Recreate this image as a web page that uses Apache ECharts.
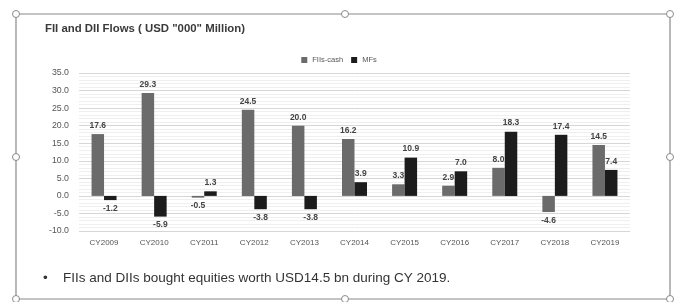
<!DOCTYPE html>
<html>
<head>
<meta charset="utf-8">
<script src="https://cdn.jsdelivr.net/npm/echarts@6/dist/echarts.min.js"></script>
<style>
body{margin:0;background:#fff;}
#chart{width:678px;height:302px;}
</style>
</head>
<body>
<div id="chart"></div>
<script>
var years = ['CY2009','CY2010','CY2011','CY2012','CY2013','CY2014','CY2015','CY2016','CY2017','CY2018','CY2019'];
var fiiCash = [17.6, 29.3, -0.5, 24.5, 20.0, 16.2, 3.3, 2.9, 8.0, -4.6, 14.5];
var mfs = [-1.2, -5.9, 1.3, -3.8, -3.8, 3.9, 10.9, 7.0, 18.3, 17.4, 7.4];
var yTicks = {min: -10, max: 35, step: 5};

// positive labels above, negative below
function withLabels(arr){
	return arr.map(function(v){
		return {value: v, label: {position: v < 0 ? 'bottom' : 'top'}};
	});
}

function handle(x, y){
	return {type:'circle', shape:{cx:x, cy:y, r:3.5}, style:{fill:'#fff', stroke:'#8a8a8a', lineWidth:1}, z:10};
}

var myChart = echarts.init(document.getElementById('chart'));
myChart.setOption({
	animation: false,
	textStyle: {fontFamily: 'Liberation Sans, Arial, sans-serif'},
	title: {
		text: 'FII and DII Flows ( USD "000" Million)',
		left: 40, top: 18,
		textStyle: {fontSize: 11.4, fontWeight: 'bold', color: '#3a3a3a'}
	},
	legend: {
		data: ['FIIs-cash', 'MFs'],
		left: 'center', top: 51,
		itemWidth: 6, itemHeight: 6, itemGap: 8,
		icon: 'rect',
		textStyle: {fontSize: 7.5, color: '#555'}
	},
	grid: {left: 79, right: 48, top: 73, bottom: 71},
	xAxis: {
		type: 'category',
		data: years,
		axisLine: {show: false},
		axisTick: {show: false},
		axisLabel: {fontSize: 8, color: '#555', margin: 8, interval: 0}
	},
	yAxis: {
		type: 'value',
		min: yTicks.min, max: yTicks.max, interval: yTicks.step,
		axisLine: {show: false},
		axisTick: {show: false},
		axisLabel: {fontSize: 8.8, color: '#555', margin: 10, formatter: function(v){ return v.toFixed(1); }},
		splitLine: {lineStyle: {color: '#d6d6d6', width: 1}},
		minorTick: {show: false, splitNumber: 5},
		minorSplitLine: {show: true, lineStyle: {color: '#efefef', width: 1}}
	},
	series: [
		{
			name: 'FIIs-cash', type: 'bar',
			data: withLabels(fiiCash),
			barWidth: 12.5, barGap: '0%',
			itemStyle: {color: '#6b6b6b'},
			label: {show: true, fontSize: 8.5, color: '#444', fontWeight: 'bold', distance: 4,
				formatter: function(p){ return p.value.toFixed(1); }}
		},
		{
			name: 'MFs', type: 'bar',
			data: withLabels(mfs),
			barWidth: 12.5, barGap: '0%',
			itemStyle: {color: '#1c1c1c'},
			label: {show: true, fontSize: 8.5, color: '#444', fontWeight: 'bold', distance: 4,
				formatter: function(p){ return p.value.toFixed(1); }}
		}
	],
	graphic: [
		{type:'rect', shape:{x:16, y:14, width:654, height:285}, style:{fill:'none', stroke:'#8a8a8a', lineWidth:1.2}, z:5},
		handle(16,14), handle(345,14), handle(670,14),
		handle(16,157), handle(670,157),
		handle(16,299), handle(345,299), handle(670,299),
		{type:'text', left: 43, top: 271, style:{text:'•', fontSize: 13.5, fill:'#333'}},
		{type:'text', left: 63, top: 271, style:{text:'FIIs and DIIs bought equities worth USD14.5 bn during CY 2019.', fontSize: 13.5, fill:'#333', fontFamily:'Liberation Sans, Arial, sans-serif'}}
	]
});
</script>
</body>
</html>
